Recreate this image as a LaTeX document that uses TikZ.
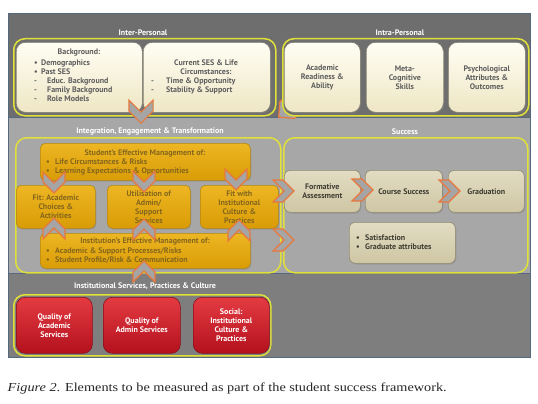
\documentclass[tikz,border=0pt]{standalone}
\usepackage{fontspec}
\setmainfont{PT Sans}
\newfontfamily\capfont{Liberation Serif}
\usetikzlibrary{shadows}
\definecolor{bandtop}{HTML}{6E6E6E}
\definecolor{bandmid}{HTML}{A7A7A7}
\definecolor{bandbot}{HTML}{7E7E7E}
\definecolor{bandline}{HTML}{56687E}
\definecolor{contline}{HTML}{E0E03A}
\definecolor{creamtop}{HTML}{FFFEF4}
\definecolor{creambot}{HTML}{EEE6C4}
\definecolor{creamline}{HTML}{7C7A6C}
\definecolor{creamtext}{HTML}{5E5E5E}
\definecolor{goldtop}{HTML}{EDB623}
\definecolor{goldbot}{HTML}{D99C06}
\definecolor{goldline}{HTML}{B38712}
\definecolor{goldtext}{HTML}{85661C}
\definecolor{tantop}{HTML}{E2DCC3}
\definecolor{tanbot}{HTML}{CEC6A3}
\definecolor{tanline}{HTML}{8E8970}
\definecolor{tantext}{HTML}{3E3C32}
\definecolor{redtop}{HTML}{E43B42}
\definecolor{redbot}{HTML}{B3111E}
\definecolor{redline}{HTML}{861019}
\definecolor{chevfill}{HTML}{A5A5A5}
\definecolor{chevline}{HTML}{E8783C}
\begin{document}
\begin{tikzpicture}[x=1pt,y=-1pt,
  font=\bfseries\fontsize{8}{9}\selectfont,
  wh/.style n args={2}{minimum width=#1pt, minimum height=#2pt},
  boxbase/.style={rectangle, anchor=north west, inner sep=0pt, align=center},
  container/.style={boxbase, draw=contline, line width=1.5pt, rounded corners=11pt},
  cream/.style={boxbase, draw=creamline, line width=0.6pt, rounded corners=9pt,
     top color=creamtop, bottom color=creambot, text=creamtext,
     drop shadow={shadow xshift=1pt, shadow yshift=-1.2pt, opacity=0.45}},
  gold/.style={boxbase, draw=goldline, line width=0.6pt, rounded corners=5pt,
     top color=goldtop, bottom color=goldbot, text=goldtext,
     drop shadow={shadow xshift=1pt, shadow yshift=-1.2pt, opacity=0.4}},
  tan/.style={boxbase, draw=tanline, line width=0.6pt, rounded corners=6pt,
     top color=tantop, bottom color=tanbot, text=tantext,
     drop shadow={shadow xshift=1pt, shadow yshift=-1.2pt, opacity=0.4}},
  redbox/.style={boxbase, draw=redline, line width=0.6pt, rounded corners=9pt,
     top color=redtop, bottom color=redbot, text=white,
     drop shadow={shadow xshift=1pt, shadow yshift=-1.2pt, opacity=0.45}},
  title/.style={text=white, inner sep=0pt},
  listtxt/.style={anchor=west, inner sep=0pt, align=left},
  chevst/.style={fill=chevfill, draw=chevline, line width=1.2pt, line join=miter},
  chev/.pic={\filldraw[chevst] (-10,-11) -- (0,-11) -- (11,0) -- (0,11) -- (-10,11) -- (1,0) -- cycle;}
]
\useasboundingbox (0,0) rectangle (538,404);
\fill[white] (0,0) rectangle (538,404);

% bands
\draw[fill=bandtop, draw=bandline, line width=0.8pt] (8,13) rectangle (530,117);
\draw[fill=bandmid, draw=bandline, line width=0.8pt] (8,117) rectangle (530,273);
\draw[fill=bandbot, draw=bandline, line width=0.8pt] (8,273) rectangle (530,357);

% titles
\node[title] (interT) at (143,33) {Inter-Personal};
\node[title] (intraT) at (400,33) {Intra-Personal};
\node[title] (integT) at (150,131) {Integration, Engagement \& Transformation};
\node[title] (succT) at (405,132) {Success};
\node[title] (instT) at (145,286) {Institutional Services, Practices \& Culture};

% chevron hidden behind intra container
\pic[rotate=-140] (c2) at (287,110) {chev};

% containers
\node[container, fill=bandtop, wh={262}{77}] (interC) at (13,38) {};
\node[container, fill=bandtop, wh={246}{77}] (intraC) at (282,38) {};
\node[container, wh={265}{135}] (integC) at (15,137) {};
\node[container, wh={244}{135}] (succC) at (283,137) {};
\node[container, wh={257}{61}] (instC) at (13,294) {};

% cream boxes
\node[cream, wh={126}{70}] (bg) at (16,42) {};
\node[cream, wh={127}{70}] (ses) at (143,42) {};
\node[cream, wh={76}{70}] (acad) at (284,42) {Academic\\Readiness \&\\Ability};
\node[cream, wh={77}{70}] (meta) at (366,42) {Meta-\\Cognitive\\Skills};
\node[cream, wh={77}{70}] (psych) at (448,42) {Psychological\\Attributes \&\\Outcomes};

\node[inner sep=0pt, text=creamtext] (bgT) at (79,53) {Background:};
\node[listtxt, text=creamtext] (bgL) at (34,81) {%
  \makebox[7pt][l]{•}Demographics\\
  \makebox[7pt][l]{•}Past SES\\
  \makebox[13pt][l]{-}Educ. Background\\
  \makebox[13pt][l]{-}Family Background\\
  \makebox[13pt][l]{-}Role Models};
\node[inner sep=0pt, text=creamtext, align=center] (sesT) at (206,67.5) {Current SES \& Life\\Circumstances:};
\node[listtxt, text=creamtext] (sesL) at (151,85.5) {%
  \makebox[15pt][l]{-}Time \& Opportunity\\
  \makebox[15pt][l]{-}Stability \& Support};

% gold boxes
\node[gold, wh={210}{37}] (sem) at (40,143) {};
\node[gold, wh={79}{43}] (fitA) at (16,185) {Fit: Academic\\Choices \&\\Activities};
\node[gold, wh={83}{43}] (util) at (107,185) {Utilisation of\\Admin/\\Support\\Services};
\node[gold, wh={78}{43}] (fitI) at (200,185) {Fit with\\Institutional\\Culture \&\\Practices};
\node[gold, wh={210}{35}] (iem) at (40,233) {};

\node[inner sep=0pt, text=goldtext] (semT) at (145,153) {Student's Effective Management of:};
\node[listtxt, text=goldtext] (semL) at (46,166.5) {%
  \makebox[9pt][l]{•}Life Circumstances \& Risks\\
  \makebox[9pt][l]{•}Learning Expectations \& Opportunities};
\node[inner sep=0pt, text=goldtext] (iemT) at (145,242) {Institution's Effective Management of:};
\node[listtxt, text=goldtext] (iemL) at (46,255.5) {%
  \makebox[9pt][l]{•}Academic \& Support Processes/Risks\\
  \makebox[9pt][l]{•}Student Profile/Risk \& Communication};

% success boxes
\node[tan, wh={76}{42}] (form) at (284,170) {Formative\\Assessment};
\node[tan, wh={77}{42}] (course) at (365,170) {Course Success};
\node[tan, wh={76}{42}] (grad) at (448,170) {Graduation};
\node[tan, wh={106}{41}] (sat) at (349,222) {};
\node[listtxt, text=tantext] (satL) at (356,242.5) {%
  \makebox[9pt][l]{•}Satisfaction\\
  \makebox[9pt][l]{•}Graduate attributes};

% red boxes
\node[redbox, wh={76}{56}] (qa) at (16,297) {Quality of\\Academic\\Services};
\node[redbox, wh={77}{56}] (qad) at (103,297) {Quality of\\Admin Services};
\node[redbox, wh={76}{56}] (soc) at (193,297) {Social:\\Institutional\\Culture \&\\Practices};

% chevrons
\pic[rotate=-90, scale=1.1] (c1) at (141,111) {chev};
\pic[rotate=-90] (d1) at (54,182) {chev};
\pic[rotate=-90] (d2) at (144,181) {chev};
\pic[rotate=-90] (d3) at (236,179) {chev};
\pic[rotate=90] (u1) at (54,229) {chev};
\pic[rotate=90] (u2) at (144,230) {chev};
\pic[rotate=90] (u3) at (239,231) {chev};
\pic[rotate=90] (u4) at (144,272) {chev};
\pic (r1) at (283,191) {chev};
\pic (r2) at (283,240) {chev};
\pic (r3) at (362,190) {chev};
\pic (r4) at (449,191) {chev};

% caption
\node[anchor=base west, inner sep=0pt, font=\normalfont\capfont, text=black!85] (cap) at (7.5,391.7)
  {\resizebox{439pt}{8.6pt}{\textit{Figure 2}. Elements to be measured as part of the student success framework.}};
\end{tikzpicture}
\end{document}
